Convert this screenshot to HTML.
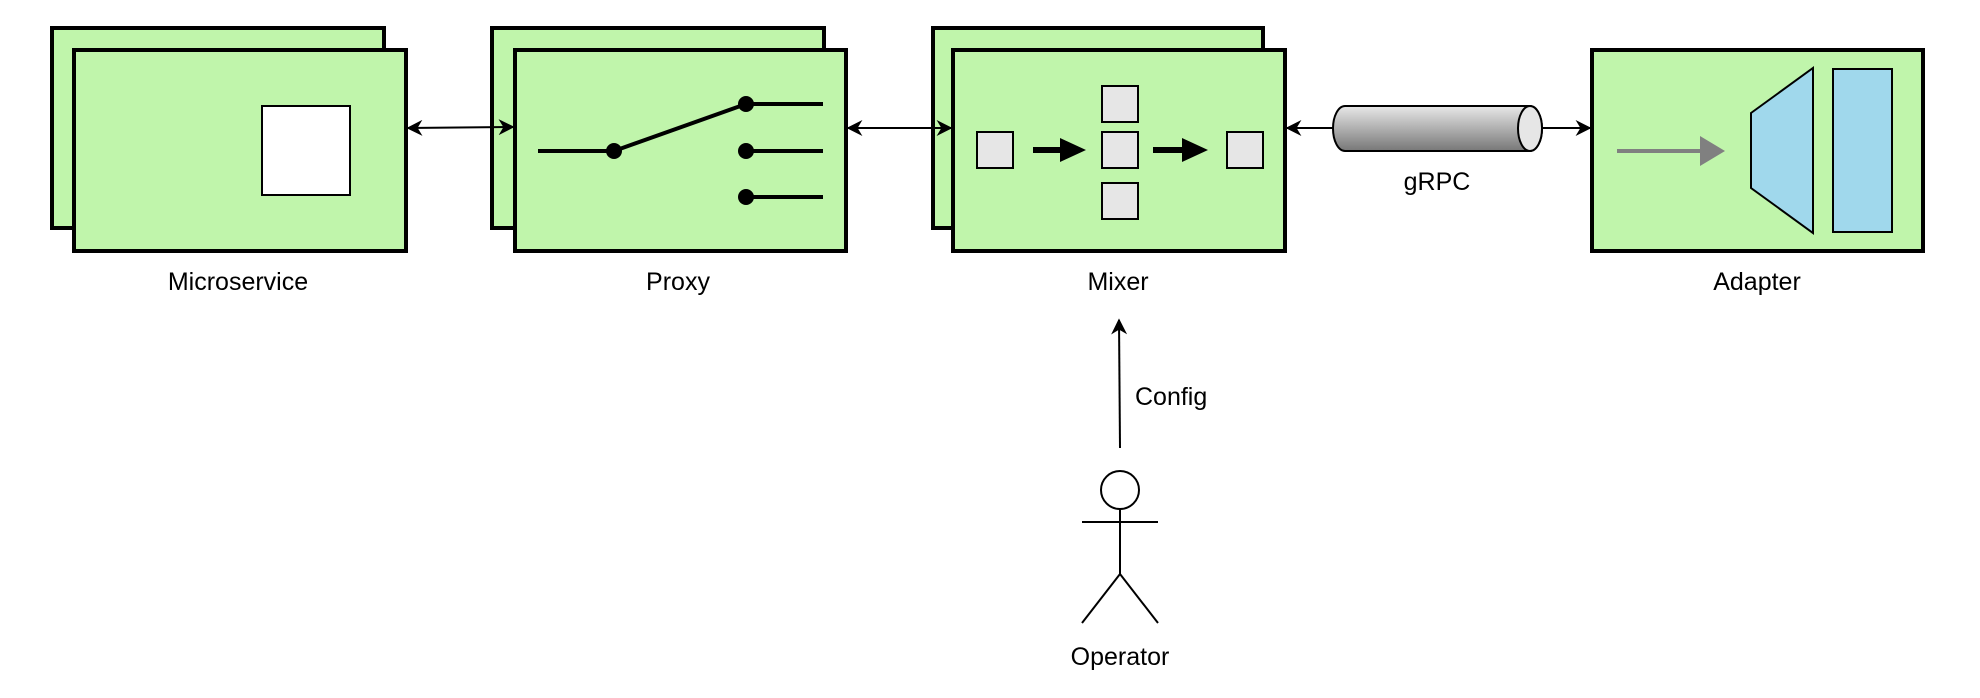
<!DOCTYPE html>
<html><head><meta charset="utf-8"><style>html,body{margin:0;padding:0;background:#fff}svg{display:block}</style></head>
<body>
<svg width="1980" height="698" viewBox="0 0 1980 698" xmlns="http://www.w3.org/2000/svg" font-family="Liberation Sans, Arial, sans-serif">
<defs>
<marker id="ah2" viewBox="0 0 10 10" refX="9" refY="5" markerWidth="16" markerHeight="16" markerUnits="userSpaceOnUse" orient="auto-start-reverse">
<path d="M0,0 L10,5 L0,10 L3,5 Z" fill="#000"/></marker>
<linearGradient id="cyl" x1="0" y1="0" x2="0" y2="1"><stop offset="0" stop-color="#e8e8e8"/><stop offset="1" stop-color="#777"/></linearGradient>
</defs>
<g stroke="#000" stroke-width="4" fill="#c0f5ab">
<rect x="52" y="28" width="332" height="200"/><rect x="74" y="50" width="332" height="201"/>
<rect x="492" y="28" width="332" height="200"/><rect x="515" y="50" width="331" height="201"/>
<rect x="933" y="28" width="330" height="200"/><rect x="953" y="50" width="332" height="201"/>
<rect x="1592" y="50" width="331" height="201"/>
</g>
<rect x="262" y="106" width="88" height="89" fill="#fff" stroke="#000" stroke-width="2"/>
<g stroke="#000" stroke-width="4" fill="#000">
<line x1="538" y1="151" x2="614" y2="151"/><line x1="614" y1="151" x2="746" y2="104"/>
<line x1="746" y1="104" x2="823" y2="104"/><line x1="746" y1="151" x2="823" y2="151"/><line x1="746" y1="197" x2="823" y2="197"/>
</g>
<g fill="#000"><circle cx="614" cy="151" r="8"/><circle cx="746" cy="104" r="8"/><circle cx="746" cy="151" r="8"/><circle cx="746" cy="197" r="8"/></g>
<g stroke="#000" stroke-width="2" fill="none">
<line x1="408" y1="128" x2="513" y2="127" marker-start="url(#ah2)" marker-end="url(#ah2)"/>
<line x1="848" y1="128" x2="951" y2="128" marker-start="url(#ah2)" marker-end="url(#ah2)"/>
<line x1="1287" y1="128" x2="1340" y2="128" marker-start="url(#ah2)"/>
<line x1="1540" y1="128" x2="1590" y2="128" marker-end="url(#ah2)"/>
<line x1="1120" y1="448" x2="1119" y2="320" marker-end="url(#ah2)"/>
</g>
<g fill="#e6e6e6" stroke="#000" stroke-width="2">
<rect x="977" y="132" width="36" height="36"/><rect x="1102" y="86" width="36" height="36"/>
<rect x="1102" y="132" width="36" height="36"/><rect x="1102" y="183" width="36" height="36"/>
<rect x="1227" y="132" width="36" height="36"/>
</g>
<g fill="#000">
<rect x="1033" y="147" width="30" height="6"/><path d="M1060,138 L1086,150 L1060,162Z"/>
<rect x="1153" y="147" width="32" height="6"/><path d="M1182,138 L1208,150 L1182,162Z"/>
</g>
<path d="M1345,106 L1530,106 A12,22.5 0 0 1 1530,151 L1345,151 A12,22.5 0 0 1 1345,106Z" fill="url(#cyl)" stroke="#000" stroke-width="2"/>
<ellipse cx="1530" cy="128.5" rx="12" ry="22.5" fill="#e6e6e6" stroke="#000" stroke-width="2"/>
<rect x="1617" y="149" width="88" height="4" fill="#808080"/><path d="M1700,136 L1725,151 L1700,166Z" fill="#808080"/>
<path d="M1751,113 L1813,68 L1813,233 L1751,188Z" fill="#a0d8ec" stroke="#000" stroke-width="2"/>
<rect x="1833" y="69" width="59" height="163" fill="#a0d8ec" stroke="#000" stroke-width="2"/>
<g stroke="#000" stroke-width="2" fill="none">
<circle cx="1120" cy="490" r="19"/><line x1="1082" y1="522" x2="1158" y2="522"/>
<line x1="1120" y1="509" x2="1120" y2="574"/><path d="M1082,623 L1120,574 L1158,623"/>
</g>
<g font-size="25" fill="#000" text-anchor="middle">
<text x="238" y="290">Microservice</text><text x="678" y="290">Proxy</text>
<text x="1118" y="290">Mixer</text><text x="1757" y="290">Adapter</text>
<text x="1437" y="190">gRPC</text><text x="1120" y="665">Operator</text>
<text x="1135" y="405" text-anchor="start">Config</text>
</g>
</svg>
</body></html>
